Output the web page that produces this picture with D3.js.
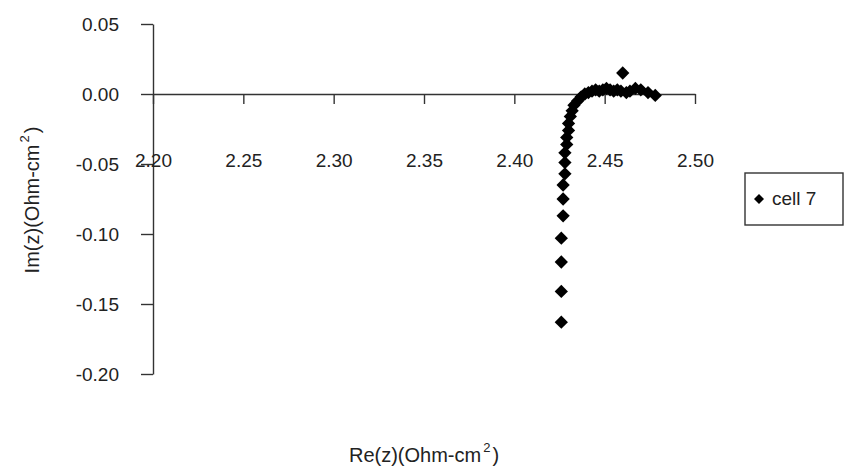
<!DOCTYPE html>
<html>
<head>
<meta charset="utf-8">
<script src="https://cdn.jsdelivr.net/npm/d3@7"></script>
<style>
  body { margin: 0; background: #fff; }
  text { font-family: "Liberation Sans", Arial, sans-serif; fill: #222; }
</style>
</head>
<body>
<div id="chart"></div>
<script>
//data
var reZ = [2.426, 2.426, 2.426, 2.426, 2.427, 2.427, 2.427, 2.428, 2.428, 2.428,
  2.429, 2.429, 2.430, 2.430, 2.431, 2.432, 2.433, 2.435, 2.437, 2.439,
  2.441, 2.443, 2.445, 2.447, 2.449, 2.451, 2.453, 2.455, 2.457, 2.459,
  2.460, 2.462, 2.464, 2.467, 2.470, 2.474, 2.478];
var imZ = [-0.163, -0.141, -0.120, -0.103, -0.087, -0.075, -0.065, -0.057, -0.049, -0.042,
  -0.036, -0.031, -0.026, -0.021, -0.016, -0.012, -0.008, -0.005, -0.002, 0.000,
  0.001, 0.002, 0.003, 0.002, 0.003, 0.004, 0.003, 0.002, 0.003, 0.002,
  0.015, 0.001, 0.002, 0.004, 0.003, 0.001, -0.001];
var xTicks = [2.20, 2.25, 2.30, 2.35, 2.40, 2.45, 2.50];
var yTicks = [0.05, 0.00, -0.05, -0.10, -0.15, -0.20];
var seriesName = "cell 7";

var svgWidth = 845;
var svgHeight = 467;

var svg = d3.select("#chart")
  .append("svg")
  .attr("width", svgWidth)
  .attr("height", svgHeight);

var points = reZ.map((x, i) => ({ x: x, y: imZ[i] }));

// scales
var xScale = d3.scaleLinear().domain([2.20, 2.50]).range([153, 695]);
var yScale = d3.scaleLinear().domain([-0.20, 0.05]).range([374, 24]);

var fmt = d => d3.format(".2f")(d).replace("\u2212", "-");

// y axis (at x = 2.20)
var yAxis = svg.append("g")
  .attr("transform", `translate(${xScale(2.20)},0)`)
  .call(d3.axisLeft(yScale).tickValues(yTicks).tickFormat(fmt).tickSize(12).tickSizeOuter(0).tickPadding(22));
yAxis.select(".domain").attr("stroke", "#333").attr("stroke-width", 1.4);
yAxis.selectAll(".tick line").attr("stroke", "#333").attr("stroke-width", 1.4);
yAxis.selectAll(".tick text")
  .attr("font-size", "19px")
  .attr("fill", "#222")
  .attr("dy", "0.36em");

// x axis (crosses at 0)
var xAxis = svg.append("g")
  .attr("transform", `translate(0,${yScale(0)})`)
  .call(d3.axisBottom(xScale).tickValues(xTicks).tickFormat(fmt).tickSize(10).tickSizeOuter(0));
xAxis.select(".domain").attr("stroke", "#333").attr("stroke-width", 1.4);
xAxis.selectAll(".tick line").attr("stroke", "#333").attr("stroke-width", 1.4);
xAxis.selectAll(".tick text")
  .attr("font-size", "19px")
  .attr("fill", "#222")
  .attr("y", 73)
  .attr("dy", 0);

// markers
var diamond = d3.symbol().type(d3.symbolSquare).size(88);
svg.append("g")
  .selectAll("path")
  .data(points)
  .enter()
  .append("path")
  .attr("d", diamond)
  .attr("transform", d => `translate(${xScale(d.x)},${yScale(d.y)}) rotate(45)`)
  .attr("fill", "#000");

// axis titles
var xTitle = svg.append("text")
  .attr("x", 424)
  .attr("y", 462)
  .attr("text-anchor", "middle")
  .attr("font-size", "20px");
xTitle.append("tspan").text("Re(z)(Ohm-cm");
xTitle.append("tspan").attr("font-size", "13px").attr("dy", -10).attr("dx", 2).text("2");
xTitle.append("tspan").attr("dy", 10).attr("dx", 2).text(")");

var yTitle = svg.append("text")
  .attr("transform", "translate(39,200) rotate(-90)")
  .attr("text-anchor", "middle")
  .attr("font-size", "20px");
yTitle.append("tspan").text("Im(z)(Ohm-cm");
yTitle.append("tspan").attr("font-size", "13px").attr("dy", -10).attr("dx", 2).text("2");
yTitle.append("tspan").attr("dy", 10).attr("dx", 2).text(")");

// legend
var legend = svg.append("g");
legend.append("rect")
  .attr("x", 745)
  .attr("y", 173)
  .attr("width", 98)
  .attr("height", 52)
  .attr("fill", "#fff")
  .attr("stroke", "#333")
  .attr("stroke-width", 1.4);
legend.append("path")
  .attr("d", d3.symbol().type(d3.symbolSquare).size(50))
  .attr("transform", "translate(759,199) rotate(45)")
  .attr("fill", "#000");
legend.append("text")
  .attr("x", 772)
  .attr("y", 205)
  .attr("font-size", "19px")
  .text(seriesName);
</script>
</body>
</html>
